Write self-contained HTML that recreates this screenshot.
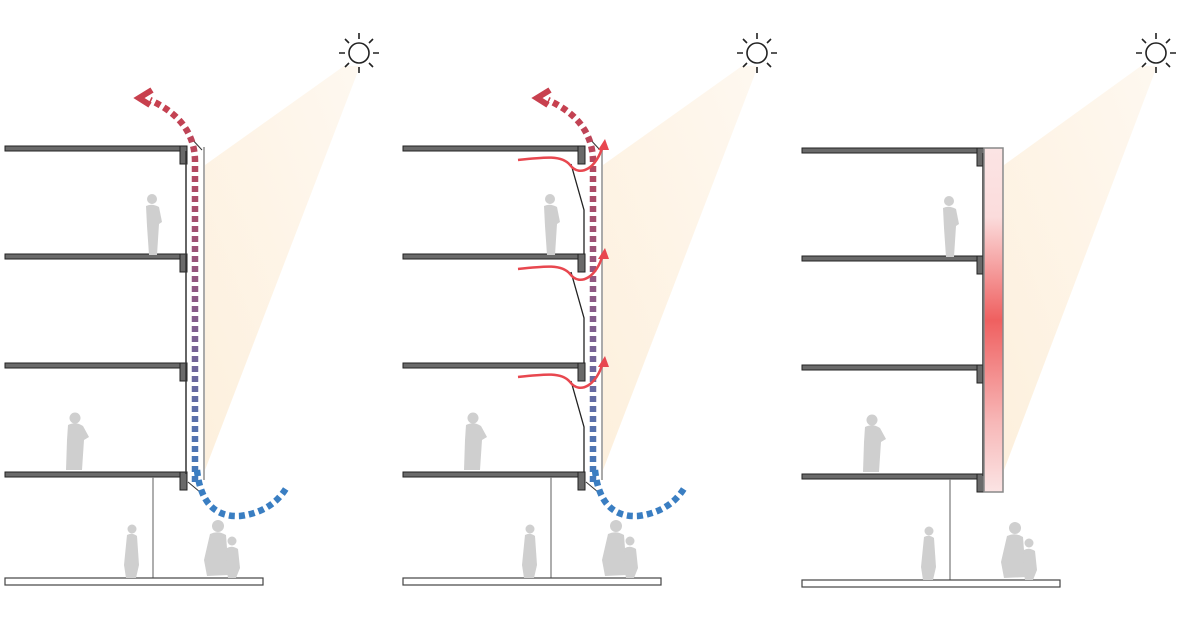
<!DOCTYPE html>
<html><head><meta charset="utf-8"><style>html,body{margin:0;padding:0;background:#fff}svg{display:block}</style></head>
<body>
<svg width="1200" height="635" viewBox="0 0 1200 635" xmlns="http://www.w3.org/2000/svg">
<defs>
<linearGradient id="air" gradientUnits="userSpaceOnUse" x1="0" y1="100" x2="0" y2="500">
<stop offset="0" stop-color="#c8404e"/><stop offset="0.5" stop-color="#8c5a86"/><stop offset="1" stop-color="#3a7ec2"/></linearGradient>
<linearGradient id="sun" x1="0" y1="1" x2="1" y2="0">
<stop offset="0" stop-color="#fdf0dd"/><stop offset="1" stop-color="#fef8f0"/></linearGradient>
<linearGradient id="heat" x1="0" y1="0" x2="0" y2="1">
<stop offset="0" stop-color="#fbe4e4"/><stop offset="0.2" stop-color="#fbdcdc"/><stop offset="0.5" stop-color="#ef6060"/><stop offset="0.8" stop-color="#f7b8b8"/><stop offset="1" stop-color="#fbe4e4"/></linearGradient>
<g id="sunicon" stroke="#222" stroke-width="1.6" fill="none">
<circle cx="0" cy="0" r="10"/>
<path d="M0,-14V-20M0,14V20M-14,0H-20M14,0H20M10,-10L14,-14M-10,-10L-14,-14M10,10L14,14M-10,10L-14,14"/></g>
<g id="bldg">
<g fill="#6a6a6a" stroke="#222" stroke-width="1">
<rect x="5" y="146" width="182" height="5"/><rect x="180" y="146" width="7" height="18"/>
<rect x="5" y="254" width="182" height="5"/><rect x="180" y="254" width="7" height="18"/>
<rect x="5" y="363" width="182" height="5"/><rect x="180" y="363" width="7" height="18"/>
<rect x="5" y="472" width="182" height="5"/><rect x="180" y="472" width="7" height="18"/>
</g>
<line x1="153" y1="477" x2="153" y2="580" stroke="#777" stroke-width="1.2"/>
<rect x="5" y="578" width="258" height="7" fill="#fff" stroke="#444" stroke-width="1.2"/>
<g fill="#cfcfcf">
<circle cx="152" cy="199" r="5"/><path d="M146,206 Q152,203 159,207 L162,222 L159,224 L157,255 L149,255 L147,226 Z"/>
<circle cx="75" cy="418" r="5.5"/><path d="M68,425 Q76,421 83,426 L89,437 L84,440 L82,470 L66,470 L67,440 Z"/>
<circle cx="132" cy="529" r="4.5"/><path d="M127,535 Q132,532 137,536 L139,565 L136,578 L126,578 L124,565 Z"/>
<circle cx="218" cy="526" r="6"/><path d="M210,534 Q218,530 226,535 L229,575 L207,576 L204,560 Z"/>
<circle cx="232" cy="541" r="4.5"/><path d="M227,548 Q232,545 238,549 L240,568 L236,578 L228,578 L226,566 Z"/>
</g>
</g>
</defs>

<!-- Panel 1 -->
<polygon points="344,66 360,66 205,470 205,165" fill="url(#sun)"/>
<use href="#sunicon" x="359" y="53"/>
<use href="#bldg"/>
<line x1="186" y1="151" x2="186" y2="474" stroke="#333" stroke-width="1.5"/>
<line x1="204" y1="147" x2="204" y2="480" stroke="#aaa" stroke-width="2"/>
<line x1="190" y1="137" x2="202" y2="150" stroke="#333"/>
<line x1="188" y1="482" x2="200" y2="492" stroke="#333"/>
<path d="M195,482 L195,160 Q194,120 150,100" fill="none" stroke="url(#air)" stroke-width="6.5" stroke-dasharray="6 4"/>
<polyline points="152,90 139,98 150,105" fill="none" stroke="#c8404e" stroke-width="6"/>
<path d="M197,470 Q202,518 240,516 Q272,512 287,487" fill="none" stroke="#3a7ec2" stroke-width="6.5" stroke-dasharray="6 4"/>

<!-- Panel 2 -->
<polygon points="742,66 758,66 603,470 603,165" fill="url(#sun)"/>
<use href="#sunicon" x="757" y="53"/>
<use href="#bldg" x="398"/>
<g stroke="#222" stroke-width="1.3" fill="none">
<path d="M571,164 L584,210 L584,254"/><path d="M571,272 L584,318 L584,363"/><path d="M571,381 L584,427 L584,472"/>
</g>
<line x1="602" y1="147" x2="602" y2="480" stroke="#aaa" stroke-width="2"/>
<line x1="588" y1="137" x2="600" y2="150" stroke="#333"/>
<line x1="586" y1="482" x2="598" y2="492" stroke="#333"/>
<path d="M593,482 L593,160 Q592,120 548,100" fill="none" stroke="url(#air)" stroke-width="6.5" stroke-dasharray="6 4"/>
<polyline points="550,90 537,98 548,105" fill="none" stroke="#c8404e" stroke-width="6"/>
<path d="M595,470 Q600,518 638,516 Q670,512 685,487" fill="none" stroke="#3a7ec2" stroke-width="6.5" stroke-dasharray="6 4"/>
<g fill="none" stroke="#e8474f" stroke-width="2.5">
<path d="M518,160 C545,157 562,155 570,165 C580,178 597,168 603,145"/>
<path d="M518,269 C545,266 562,264 570,274 C580,287 597,277 603,254"/>
<path d="M518,377 C545,374 562,372 570,382 C580,395 597,385 603,362"/>
</g>
<g fill="#e8474f">
<polygon points="605,139 598,150 609,150"/><polygon points="605,248 598,259 609,259"/><polygon points="605,356 598,367 609,367"/>
</g>

<!-- Panel 3 -->
<polygon points="1141,66 1157,66 1004,470 1004,165" fill="url(#sun)"/>
<use href="#sunicon" x="1156" y="53"/>
<use href="#bldg" x="797" y="2"/>
<line x1="983" y1="153" x2="983" y2="476" stroke="#333" stroke-width="1.5"/>
<rect x="984" y="148" width="19" height="344" fill="url(#heat)" stroke="#888" stroke-width="1.5"/>
</svg>
</body></html>
